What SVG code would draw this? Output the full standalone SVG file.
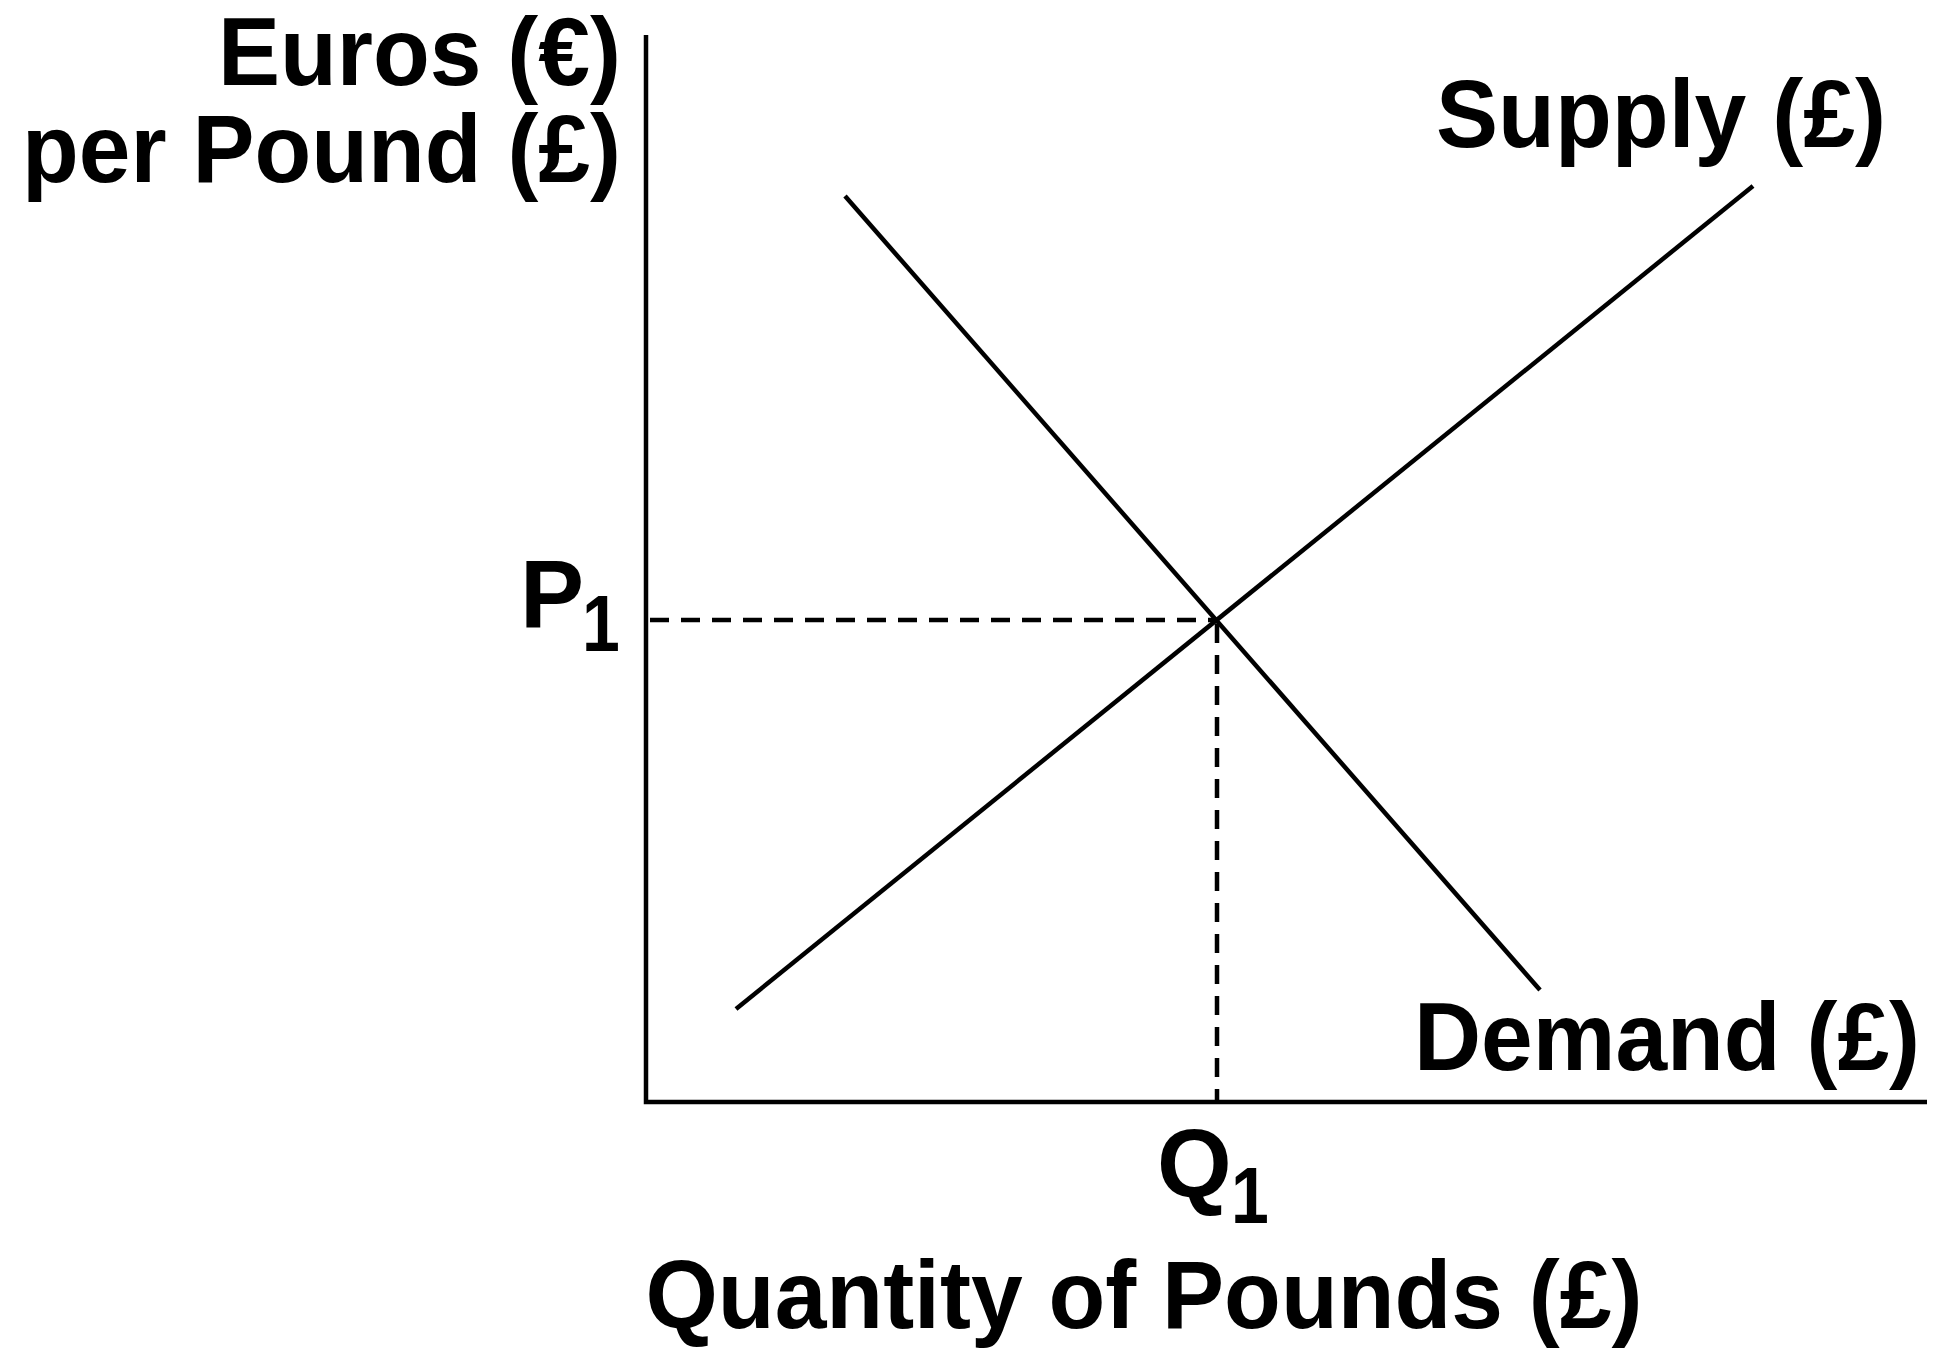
<svg xmlns="http://www.w3.org/2000/svg" width="1953" height="1351" viewBox="0 0 1953 1351">
<style>
.lbl{font-family:"Liberation Sans",Arial,sans-serif;font-weight:bold;font-size:96px;fill:#000}
.sub{font-family:"Liberation Sans",Arial,sans-serif;font-weight:bold;font-size:80px;fill:#000}
.ln{stroke:#000;stroke-width:4.5;fill:none}
.ax{stroke:#000;stroke-width:4.5;fill:none}
.ds{stroke:#000;stroke-width:4.5;fill:none;stroke-dasharray:19 12}
</style>
<rect width="1953" height="1351" fill="#fff"/>
<g id="connectors">
<path class="ax" d="M646,35 V1102 H1927"/>
<line class="ds" x1="650" y1="620" x2="1217" y2="620"/>
<line class="ds" x1="1217" y1="624" x2="1217" y2="1100"/>
<line id="demand" class="ln" x1="845" y1="196" x2="1540" y2="990"/>
<line id="supply" class="ln" x1="736" y1="1009" x2="1753" y2="186"/>
</g>
<g id="y-label">
<text class="lbl" x="621" y="85" text-anchor="end" textLength="403" lengthAdjust="spacingAndGlyphs">Euros (€)</text>
<text class="lbl" x="621" y="182" text-anchor="end" textLength="599" lengthAdjust="spacingAndGlyphs">per Pound (£)</text>
</g>
<g id="supply-label"><text class="lbl" x="1436" y="147" textLength="450" lengthAdjust="spacingAndGlyphs">Supply (£)</text></g>
<g id="demand-label"><text class="lbl" x="1414" y="1070" textLength="506" lengthAdjust="spacingAndGlyphs">Demand (£)</text></g>
<g id="p1"><text class="lbl" x="520" y="627">P</text><text class="sub" transform="translate(582,651) scale(0.85,1)">1</text></g>
<g id="q1"><text class="lbl" x="1157" y="1197">Q</text><text class="sub" transform="translate(1231,1223) scale(0.85,1)">1</text></g>
<g id="x-label"><text class="lbl" x="1144" y="1328" text-anchor="middle" textLength="997" lengthAdjust="spacingAndGlyphs">Quantity of Pounds (£)</text></g>
</svg>
